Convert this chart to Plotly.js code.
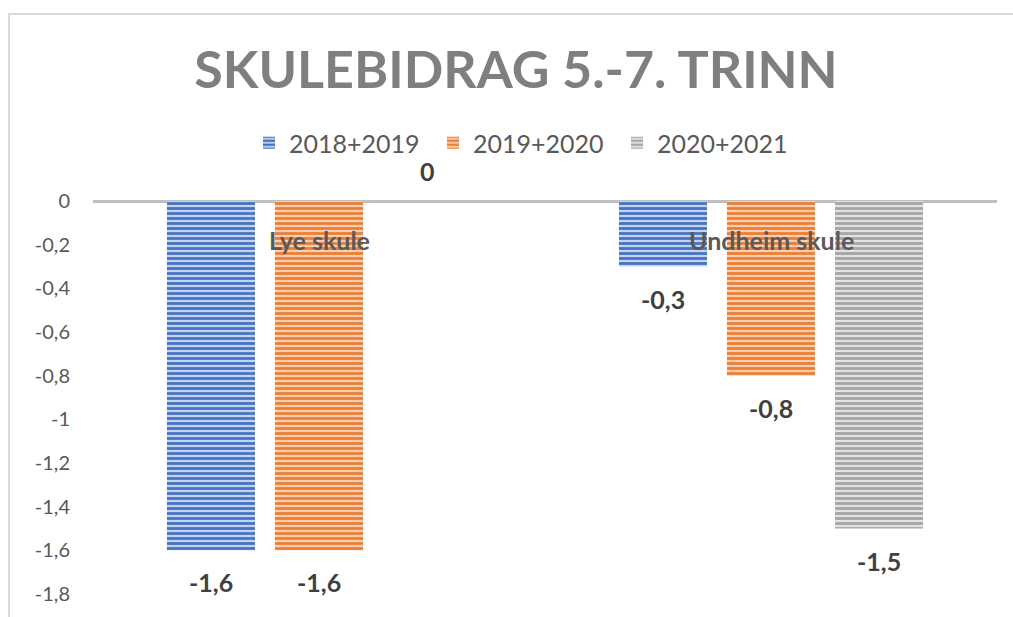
<!DOCTYPE html>
<html>
<head>
<meta charset="utf-8">
<script src="https://cdn.plot.ly/plotly-3.0.1.min.js"></script>
<style>
  html, body { margin: 0; padding: 0; background: #fff; }
  #wrap { position: relative; width: 1013px; height: 617px; overflow: hidden; }
  #chart { width: 1013px; height: 617px; }
  #frame { position: absolute; left: 8px; top: 13px; width: 1200px; height: 800px;
           border-left: 2px solid #d9d9d9; border-top: 2px solid #d9d9d9; pointer-events: none; }
</style>
</head>
<body>
<div id="wrap">
  <div id="chart"></div>
  <div id="frame"></div>
</div>
<script>
const categories = ["Lye skule", "Undheim skule"];
const seriesNames = ["2018+2019", "2019+2020", "2020+2021"];
const values2018_2019 = [-1.6, -0.3];
const values2019_2020 = [-1.6, -0.8];
const values2020_2021 = [0, -1.5];
const seriesValues = [values2018_2019, values2019_2020, values2020_2021];
const yTickVals = [0, -0.2, -0.4, -0.6, -0.8, -1, -1.2, -1.4, -1.6, -1.8];
const yTickText = ["0", "-0,2", "-0,4", "-0,6", "-0,8", "-1", "-1,2", "-1,4", "-1,6", "-1,8"];

const fg = ["#4472c4", "#ed7d31", "#a5a5a5"];
const bg = ["#c5d3ee", "#f9cfb3", "#e2e2e2"];

const W = 1013, H = 617;
const margin = { l: 93, r: 16, t: 201, b: 23 };
const bargap = 0.283, bargroupgap = 0.185;
const plotW = W - margin.l - margin.r;
const catW = plotW / categories.length;
const slot = catW * (1 - bargap) / seriesNames.length;

const fmt = v => String(v).replace('.', ',');
const FONT = 'Lato, "Open Sans", sans-serif';

const traces = seriesNames.map((name, j) => ({
  type: 'bar',
  name: name,
  x: categories,
  y: seriesValues[j],
  marker: {
    color: bg[j],
    line: { width: 0 },
    pattern: { shape: '-', fgcolor: fg[j], bgcolor: bg[j], size: 5, solidity: 0.55 }
  },
  hoverinfo: 'x+y'
}));

const annotations = [];
seriesValues.forEach((vals, j) => {
  vals.forEach((v, i) => {
    annotations.push({
      x: categories[i], y: v, xref: 'x', yref: 'y',
      xshift: (j - (seriesNames.length - 1) / 2) * slot,
      yshift: v < 0 ? -32 : 30,
      yanchor: 'middle', xanchor: 'center',
      text: fmt(v), showarrow: false,
      font: { family: FONT, size: 25, color: '#404040', weight: 'bold' }
    });
  });
});
categories.forEach(c => {
  annotations.push({
    x: c, y: 0, xref: 'x', yref: 'y', yshift: -39,
    yanchor: 'middle', xanchor: 'center', showarrow: false,
    text: c,
    font: { family: FONT, size: 25, color: '#595959', weight: 'bold' }
  });
});

const layout = {
  width: W, height: H,
  margin: margin,
  paper_bgcolor: '#ffffff',
  plot_bgcolor: '#ffffff',
  separators: ', ',
  barmode: 'group',
  bargap: bargap,
  bargroupgap: bargroupgap,
  title: {
    text: 'SKULEBIDRAG 5.-7. TRINN',
    font: { family: FONT, size: 52, color: '#7f7f7f', weight: 'bold' },
    x: 516 / W, xanchor: 'center',
    y: 1 - 70 / H, yanchor: 'middle'
  },
  showlegend: true,
  legend: {
    orientation: 'h',
    x: (525 - margin.l) / plotW, xanchor: 'center',
    y: 1 + (margin.t - 143) / (H - margin.t - margin.b), yanchor: 'middle',
    font: { family: FONT, size: 25, color: '#595959' },
    entrywidth: 139, entrywidthmode: 'pixels',
    traceorder: 'normal'
  },
  xaxis: {
    type: 'category',
    showticklabels: false,
    showgrid: false,
    zeroline: false,
    showline: false,
    ticks: ''
  },
  yaxis: {
    range: [-1.8, 0],
    tickvals: yTickVals,
    ticktext: yTickText,
    showgrid: false,
    zeroline: true,
    zerolinecolor: '#bfbfbf',
    zerolinewidth: 3,
    showline: false,
    ticks: '',
    ticklabelstandoff: 22,
    tickfont: { family: FONT, size: 20, color: '#595959' }
  },
  annotations: annotations
};

Plotly.newPlot('chart', traces, layout, { displayModeBar: false, staticPlot: true });
</script>
</body>
</html>
